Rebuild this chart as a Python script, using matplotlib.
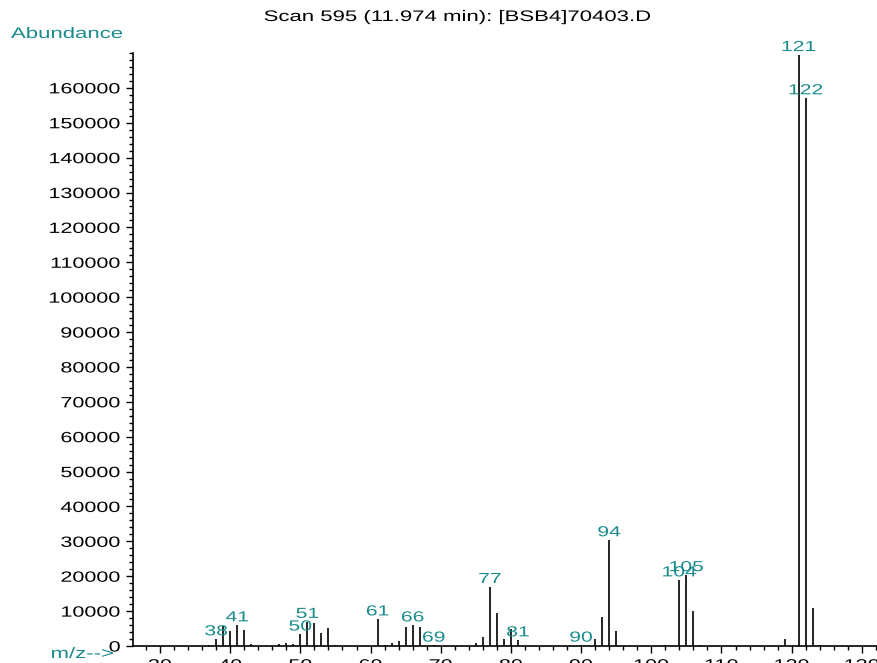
import matplotlib
matplotlib.use("Agg")
import matplotlib.pyplot as plt
from matplotlib.ticker import MultipleLocator
from matplotlib.patheffects import AbstractPathEffect
from matplotlib.transforms import Affine2D

plt.rcParams['font.family'] = ['Liberation Sans', 'DejaVu Sans']

title = "Scan 595 (11.974 min): [BSB4]70403.D"
mz = [37, 38, 39, 40, 41, 42, 43, 47, 48, 49, 50, 51, 52, 53, 54, 55,
      61, 62, 63, 64, 65, 66, 67, 69, 75, 76, 77, 78, 79, 80, 81,
      90, 92, 93, 94, 95, 102, 104, 105, 106, 107, 119, 121, 122, 123, 124]
abundance = [300, 2000, 5700, 4300, 6000, 4600, 600, 500, 800, 700, 3400, 7000, 6600, 3800, 5200, 300,
             7700, 300, 1000, 1400, 5500, 6000, 5400, 200, 1000, 2600, 17000, 9400, 2000, 4800, 1700,
             200, 2000, 8400, 30400, 4400, 300, 18900, 20400, 10100, 300, 1900, 169500, 157100, 10800, 300]
labeled = [38, 41, 50, 51, 61, 66, 69, 77, 81, 90, 94, 104, 105, 121, 122]

teal = '#1a8c8c'
SX = 1.45


class HStretch(AbstractPathEffect):
    """Widen glyphs horizontally (the reference uses a wide Helvetica)."""
    def __init__(self, sx=SX, ha='center'):
        super().__init__()
        self.sx = sx
        self.ha = ha

    def draw_path(self, renderer, gc, tpath, affine, rgbFace=None):
        ext = tpath.get_extents(affine)
        if self.ha == 'left':
            x0 = ext.x0
        elif self.ha == 'right':
            x0 = ext.x1
        else:
            x0 = 0.5 * (ext.x0 + ext.x1)
        new = affine + Affine2D().translate(-x0, 0).scale(self.sx, 1).translate(x0, 0)
        renderer.draw_path(gc, tpath, new, rgbFace)


W, H = 878, 663
fig = plt.figure(figsize=(W/100, H/100), dpi=100)
ax = fig.add_axes([133/W, 1-646/H, (W-133)/W, (646-53)/H])

ax.vlines(mz, 0, abundance, colors='black', linewidth=1.2)
for m, a in zip(mz, abundance):
    if m in labeled:
        t = ax.annotate(str(m), (m, a), xytext=(0, 0.5), textcoords='offset points',
                        ha='center', va='bottom', color=teal, fontsize=10.5)
        t.set_path_effects([HStretch(SX, 'center')])

ax.set_xlim(26.15, 132.3)
ax.set_ylim(0, 170000)
ax.xaxis.set_major_locator(MultipleLocator(10))
ax.xaxis.set_minor_locator(MultipleLocator(2))
ax.set_yticks(range(0, 170000, 10000))
ax.yaxis.set_minor_locator(MultipleLocator(2000))
ax.tick_params(axis='both', which='major', length=5, width=1, labelsize=10.7, pad=4)
ax.tick_params(axis='both', which='minor', length=3, width=1)
for s in ['top', 'right']:
    ax.spines[s].set_visible(False)
for s in ['left', 'bottom']:
    ax.spines[s].set_linewidth(1.2)

t1 = fig.text(457/W, 1-17/H, title, ha='center', va='center', fontsize=11)
t1.set_path_effects([HStretch(SX, 'center')])
t2 = fig.text(11/W, 1-34/H, "Abundance", ha='left', va='center', color=teal, fontsize=11)
t2.set_path_effects([HStretch(SX, 'left')])
t3 = fig.text(51/W, 1-654/H, "m/z-->", ha='left', va='center', color=teal, fontsize=11)
t3.set_path_effects([HStretch(SX, 'left')])

fig.canvas.draw()
for lab in ax.get_xticklabels():
    lab.set_path_effects([HStretch(SX, 'center')])
for lab in ax.get_yticklabels():
    lab.set_path_effects([HStretch(SX, 'right')])

fig.savefig("out.png", dpi=100)
